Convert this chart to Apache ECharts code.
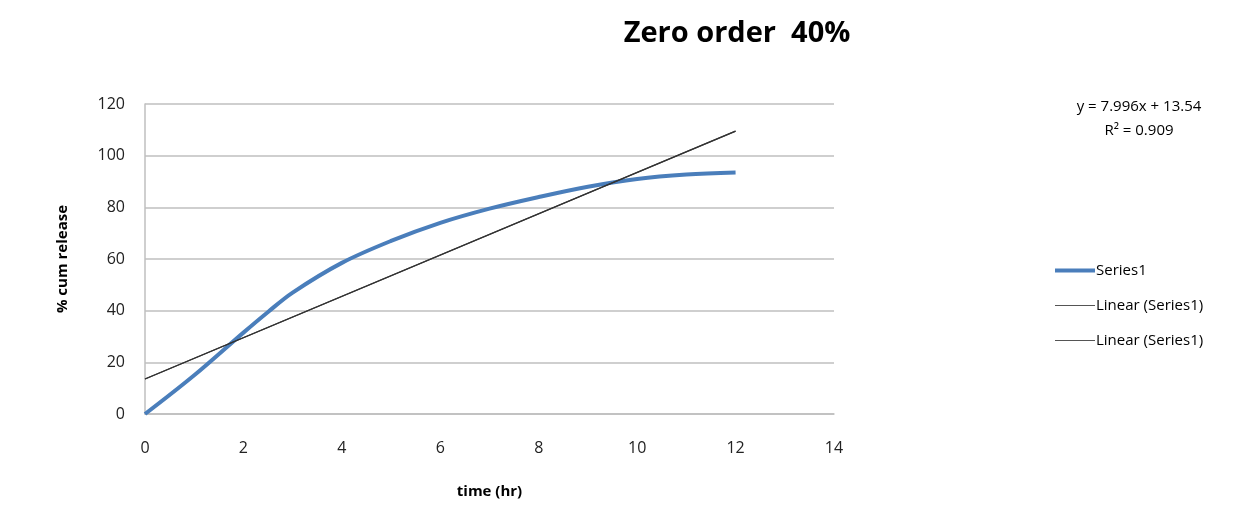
<!DOCTYPE html>
<html><head><meta charset="utf-8">
<script src="https://cdn.jsdelivr.net/npm/echarts@6/dist/echarts.min.js"></script>
<style>html,body{margin:0;padding:0;background:#fff}#c{width:1251px;height:514px}</style>
</head><body><div id="c"></div>
<script>
const timeHr = [0, 1, 2, 2.5, 3, 4, 5, 6, 7, 8, 9, 10, 11, 12];
const cumRelease = [0, 15, 31.5, 39.5, 47, 58.5, 67, 74, 79.5, 84, 88, 91, 92.7, 93.5];
const trendSlope = 7.996;
const trendIntercept = 13.54;
const trendX = [0, 12];
const xTicks = [0, 2, 4, 6, 8, 10, 12, 14];
const yTicks = [0, 20, 40, 60, 80, 100, 120];

const mainData = timeHr.map((t, i) => [t, cumRelease[i]]);
const trendData = trendX.map(x => [x, trendSlope * x + trendIntercept]);
const font = '"Open Sans", "Liberation Sans", sans-serif';

const chart = echarts.init(document.getElementById('c'));
chart.setOption({
  animation: false,
  textStyle: { fontFamily: font },
  title: [
    { text: 'Zero order  40%', left: 732, top: 14, textAlign: 'center',
      textStyle: { fontSize: 29, fontWeight: 'bold', color: '#000', fontFamily: font } },
    { text: 'y = 7.996x + 13.54\nR² = 0.909', left: 1134, top: 90, textAlign: 'center',
      textStyle: { fontSize: 15, fontWeight: 'normal', color: '#000', lineHeight: 24, fontFamily: font } }
  ],
  grid: { left: 145, top: 104, width: 689, height: 310, containLabel: false },
  legend: {
    orient: 'vertical', left: 1050, top: 258, itemWidth: 40, itemHeight: 14, itemGap: 20,
    textStyle: { fontSize: 15, color: '#000', padding: [0, 0, 0, -4] },
    data: [
      { name: 'Series1', icon: 'path://M0,0 L40,0 L40,4 L0,4 Z', itemStyle: { color: '#4a7ebb' } },
      { name: 'Linear (Series1)', icon: 'path://M0,0 L40,0 L40,1.2 L0,1.2 Z', itemStyle: { color: '#555' } },
      { name: 'Linear (Series1) ', icon: 'path://M0,0 L40,0 L40,1.2 L0,1.2 Z', itemStyle: { color: '#555' } }
    ]
  },
  xAxis: {
    type: 'value', min: 0, max: 14, interval: 2,
    name: 'time (hr)', nameLocation: 'middle', nameGap: 70,
    nameTextStyle: { fontSize: 15, fontWeight: 'bold', color: '#000' },
    axisLine: { show: true, lineStyle: { color: '#bfbfbf', width: 1.5 } },
    axisTick: { show: false },
    splitLine: { show: false },
    axisLabel: { fontSize: 16, color: '#222', margin: 26,
      formatter: v => xTicks.includes(v) ? String(v) : '' }
  },
  yAxis: {
    type: 'value', min: 0, max: 120, interval: 20,
    name: '% cum release', nameLocation: 'middle', nameGap: 75, nameRotate: 90,
    nameTextStyle: { fontSize: 15, fontWeight: 'bold', color: '#000' },
    axisLine: { show: true, lineStyle: { color: '#bfbfbf', width: 1.5 } },
    axisTick: { show: false },
    splitLine: { show: true, lineStyle: { color: '#bfbfbf', width: 1.5 } },
    axisLabel: { fontSize: 16, color: '#222', margin: 20,
      formatter: v => yTicks.includes(v) ? String(v) : '' }
  },
  series: [
    { name: 'Series1', type: 'line', data: mainData, smooth: 0.35, showSymbol: false,
      lineStyle: { color: '#4a7ebb', width: 4 }, itemStyle: { color: '#4a7ebb' }, z: 3 },
    { name: 'Linear (Series1)', type: 'line', data: trendData, showSymbol: false,
      lineStyle: { color: '#333', width: 1.2 }, itemStyle: { color: '#555' }, z: 4 },
    { name: 'Linear (Series1) ', type: 'line', data: trendData, showSymbol: false,
      lineStyle: { color: '#333', width: 1.2 }, itemStyle: { color: '#555' }, z: 4 }
  ]
});
</script></body></html>
